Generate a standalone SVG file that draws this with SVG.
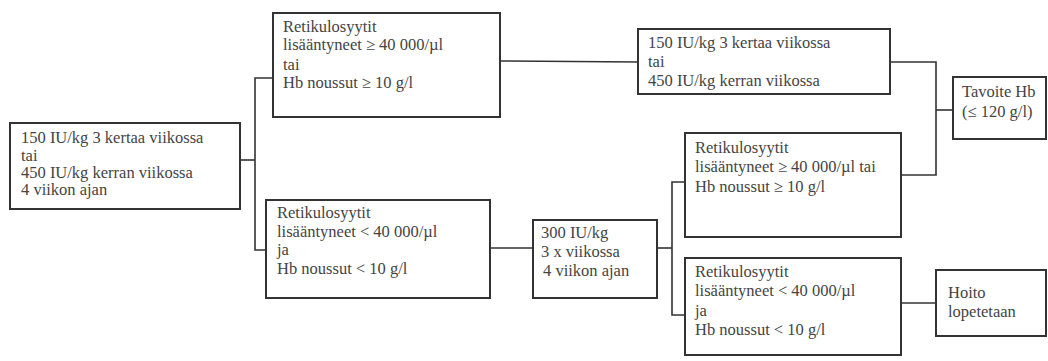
<svg xmlns="http://www.w3.org/2000/svg" width="1048" height="361" viewBox="0 0 1048 361">
<style>
.box{fill:#fff;stroke:#333;stroke-width:2}
.ln{fill:none;stroke:#333;stroke-width:1.6}
text{font-family:"Liberation Serif","Times New Roman",serif;font-size:16.5px;fill:#444}
</style>
<rect width="1048" height="361" fill="#fff"/>
<g id="connectors">
<polyline class="ln" points="240,160 255,160"/>
<polyline class="ln" points="273,78 255,78 255,250 266,250"/>
<polyline class="ln" points="500,61 638,62"/>
<polyline class="ln" points="890,62 936,62 936,175 901,175"/>
<polyline class="ln" points="936,110 953,110"/>
<polyline class="ln" points="490,248 533,248"/>
<polyline class="ln" points="657,248 672,248"/>
<polyline class="ln" points="685,182 672,182 672,315 685,315"/>
<polyline class="ln" points="901,303 936,303"/>
</g>
<g id="start">
<rect class="box" x="10" y="123" width="230" height="86"/>
<text x="21" y="143">150 IU/kg 3 kertaa viikossa</text>
<text x="21" y="161">tai</text>
<text x="21" y="178">450 IU/kg kerran viikossa</text>
<text x="21" y="195">4 viikon ajan</text>
</g>
<g id="resp1">
<rect class="box" x="273" y="13" width="227" height="104"/>
<text x="283" y="32">Retikulosyytit</text>
<text x="283" y="50">lisääntyneet ≥ 40 000/µl</text>
<text x="283" y="70">tai</text>
<text x="283" y="88">Hb noussut ≥ 10 g/l</text>
</g>
<g id="noresp1">
<rect class="box" x="266" y="200" width="224" height="98"/>
<text x="277" y="218">Retikulosyytit</text>
<text x="277" y="237">lisääntyneet &lt; 40 000/µl</text>
<text x="277" y="255">ja</text>
<text x="277" y="274">Hb noussut &lt; 10 g/l</text>
</g>
<g id="continue">
<rect class="box" x="638" y="29" width="252" height="65"/>
<text x="648" y="48">150 IU/kg 3 kertaa viikossa</text>
<text x="648" y="67">tai</text>
<text x="648" y="86">450 IU/kg kerran viikossa</text>
</g>
<g id="dose300">
<rect class="box" x="533" y="220" width="124" height="78"/>
<text x="541" y="238">300 IU/kg</text>
<text x="541" y="257">3 x viikossa</text>
<text x="543" y="276">4 viikon ajan</text>
</g>
<g id="resp2">
<rect class="box" x="685" y="133" width="216" height="104"/>
<text x="695" y="153">Retikulosyytit</text>
<text x="695" y="172">lisääntyneet ≥ 40 000/µl tai</text>
<text x="695" y="192">Hb noussut ≥ 10 g/l</text>
</g>
<g id="noresp2">
<rect class="box" x="685" y="258" width="216" height="97"/>
<text x="695" y="277">Retikulosyytit</text>
<text x="695" y="296">lisääntyneet &lt; 40 000/µl</text>
<text x="695" y="316">ja</text>
<text x="695" y="335">Hb noussut &lt; 10 g/l</text>
</g>
<g id="target">
<rect class="box" x="953" y="77" width="93" height="62"/>
<text x="962" y="97">Tavoite Hb</text>
<text x="962" y="117">(≤ 120 g/l)</text>
</g>
<g id="stop">
<rect class="box" x="936" y="270" width="110" height="66"/>
<text x="948" y="298">Hoito</text>
<text x="948" y="317">lopetetaan</text>
</g>
</svg>
